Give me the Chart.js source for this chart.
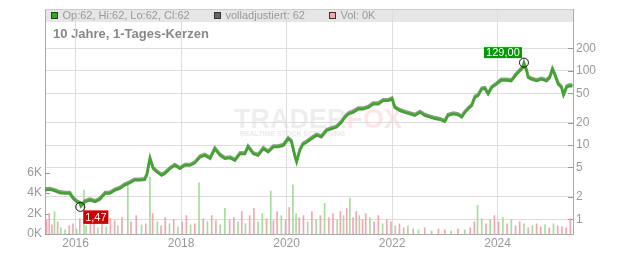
<!DOCTYPE html>
<html><head><meta charset="utf-8">
<script src="https://cdn.jsdelivr.net/npm/chart.js@4/dist/chart.umd.min.js"></script>
<style>html,body{margin:0;padding:0;background:#fff}#wrap{width:632px;height:253px}</style>
</head><body><div id="wrap"><canvas id="c" width="632" height="253"></canvas></div>
<script>
// ---- data (decimal years) ----
const dates = [2015.42,2015.51,2015.61,2015.70,2015.80,2015.89,2015.95,2016.02,2016.08,2016.10,2016.18,2016.27,2016.37,2016.46,2016.56,2016.65,2016.75,2016.84,2016.93,2017.03,2017.12,2017.22,2017.31,2017.35,2017.41,2017.47,2017.54,2017.63,2017.69,2017.79,2017.88,2017.98,2018.07,2018.17,2018.26,2018.36,2018.45,2018.55,2018.64,2018.74,2018.83,2018.93,2019.02,2019.12,2019.21,2019.27,2019.37,2019.46,2019.56,2019.65,2019.75,2019.84,2019.94,2020.03,2020.09,2020.16,2020.19,2020.25,2020.31,2020.38,2020.47,2020.57,2020.66,2020.76,2020.85,2020.95,2021.04,2021.11,2021.17,2021.26,2021.36,2021.45,2021.55,2021.64,2021.74,2021.83,2021.93,2022.00,2022.05,2022.15,2022.24,2022.34,2022.43,2022.53,2022.62,2022.72,2022.81,2022.91,2023.00,2023.06,2023.16,2023.25,2023.32,2023.38,2023.44,2023.51,2023.57,2023.63,2023.70,2023.76,2023.82,2023.89,2023.98,2024.07,2024.17,2024.26,2024.36,2024.42,2024.48,2024.50,2024.55,2024.58,2024.64,2024.74,2024.83,2024.93,2024.99,2025.04,2025.08,2025.15,2025.21,2025.25,2025.31,2025.37,2025.42];
const closes = [2.47,2.52,2.41,2.27,2.23,2.23,1.91,1.72,1.64,1.5,1.72,1.81,1.72,1.85,2.23,2.23,2.47,2.6,2.88,3.09,3.36,3.36,3.4,3.9,6.55,4.8,4.34,3.9,4.13,4.8,5.3,4.8,5.3,5.3,5.73,6.9,7.25,6.55,8.9,7.25,6.55,6.7,6.2,7.63,7.6,9.4,7.6,7.25,8.9,8.05,9.4,9.4,9.85,12.1,11.2,6.9,5.9,8.4,10.2,10.9,12.1,13.5,12.8,15.7,16.5,17.4,20.2,23.7,26.2,27.5,30.5,30.5,32,35.6,35.6,39.5,39.5,41.6,32,29,27.5,26.2,25,27.5,25,23.7,22.7,22,20.7,25,26.2,25.5,23.7,27.5,30.5,33.8,43.8,46,56.6,57.6,48.5,59.6,66,74.4,74.4,72.8,90,99.6,110,125,99.6,81,76.9,73,76.9,73,81,104.5,90,66,59.6,47,60,62.8,62];

const volDates = [2015.45,2015.50,2015.55,2015.60,2015.66,2015.72,2015.80,2015.88,2015.95,2016.02,2016.08,2016.16,2016.20,2016.28,2016.35,2016.42,2016.50,2016.58,2016.66,2016.74,2016.80,2016.88,2016.99,2017.05,2017.15,2017.25,2017.33,2017.41,2017.46,2017.55,2017.62,2017.70,2017.78,2017.86,2017.94,2018.02,2018.10,2018.18,2018.26,2018.34,2018.42,2018.50,2018.58,2018.66,2018.74,2018.83,2018.92,2019.00,2019.08,2019.15,2019.22,2019.30,2019.38,2019.46,2019.54,2019.62,2019.70,2019.75,2019.82,2019.90,2019.98,2020.05,2020.12,2020.18,2020.24,2020.32,2020.40,2020.48,2020.56,2020.64,2020.72,2020.80,2020.88,2020.96,2021.02,2021.08,2021.14,2021.20,2021.26,2021.32,2021.38,2021.44,2021.50,2021.58,2021.66,2021.74,2021.82,2021.90,2021.98,2022.06,2022.14,2022.22,2022.30,2022.40,2022.50,2022.62,2022.75,2022.88,2023.00,2023.12,2023.25,2023.38,2023.48,2023.56,2023.62,2023.70,2023.78,2023.86,2023.94,2024.02,2024.10,2024.18,2024.26,2024.34,2024.42,2024.50,2024.58,2024.66,2024.74,2024.82,2024.90,2024.98,2025.06,2025.14,2025.22,2025.30,2025.38];
const volValues = [1400,2000,900,2200,1200,600,400,800,1000,500,1500,4300,800,1200,1400,600,1000,700,1500,1300,800,1600,4800,1200,1800,900,1000,5600,2000,1200,800,1600,1000,1400,700,1200,1800,900,1000,5000,1500,1200,1800,1300,900,2500,1400,1600,1200,2200,1000,1800,2500,1200,2000,1500,4200,1300,2200,1800,1400,2600,4800,2000,1600,1800,1200,2200,1400,1800,3000,1600,2000,1400,2200,1800,2500,3500,1600,2200,1800,1400,2000,1600,1200,1800,1000,1400,1200,800,1000,600,800,500,400,600,300,500,400,300,500,400,600,1200,2800,1500,1000,1400,1800,1200,1600,1000,1400,800,1200,1000,600,800,1000,700,900,600,1000,800,700,600,1500];
const volUp = [0,0,0,1,0,1,1,0,0,1,0,1,1,0,0,1,0,1,0,0,1,0,1,0,0,1,0,1,0,1,0,0,1,0,1,0,0,1,0,1,0,1,0,0,1,1,0,0,1,0,1,0,0,1,1,0,1,0,0,1,0,0,1,1,0,0,1,0,1,0,1,0,0,1,0,1,0,1,0,0,1,0,0,1,0,0,1,0,0,1,0,0,1,0,1,0,1,0,0,1,0,1,0,0,1,1,0,1,0,0,1,0,1,0,0,1,0,1,0,0,1,0,1,0,0];

const yearTicks = [2016,2018,2020,2022,2024];
const priceTicks = [1,2,5,10,20,50,100,200];
const volTicks = [0,2000,4000,6000];
const highMark = {t:2024.50, v:129, label:'129,00'};
const lowMark = {t:2016.09, v:1.47, label:'1,47'};
const legendItems = [
  {text:'Op:62, Hi:62, Lo:62, Cl:62', color:'#33aa22'},
  {text:'volladjustiert: 62', color:'#666666'},
  {text:'Vol: 0K', color:'#f4a6b0'}
];
const titleText = '10 Jahre, 1-Tages-Kerzen';

// ---- chart ----
const FONT = '"Liberation Sans", Arial, sans-serif';
const GREEN = '#3ea62b';

const bgPlugin = {
  id:'bg',
  beforeDraw(chart){
    const {ctx, chartArea:a} = chart;
    ctx.save();
    ctx.fillStyle = '#e6e6e6';
    ctx.fillRect(a.left, a.top, a.right - a.left, 13);
    ctx.textBaseline = 'alphabetic';
    ctx.font = 'bold 27px ' + FONT;
    ctx.fillStyle = 'rgba(200,200,200,0.3)';
    ctx.fillText('TRADER', 234, 128);
    const w = ctx.measureText('TRADER').width;
    ctx.fillStyle = 'rgba(235,120,130,0.18)';
    ctx.fillText('FOX', 234 + w, 128);
    ctx.font = 'bold 7px ' + FONT;
    ctx.fillStyle = 'rgba(200,200,200,0.4)';
    ctx.fillText('REALTIME STOCK SCREENING', 240, 136);
    ctx.font = 'bold 13px ' + FONT;
    ctx.fillStyle = '#888';
    ctx.fillText(titleText, 53, 37.5);
    ctx.restore();
  },
  beforeDatasetsDraw(chart){
    const {ctx, chartArea:a} = chart;
    ctx.save();
    ctx.font = '11px ' + FONT;
    ctx.textBaseline = 'middle';
    const xs = [51, 214, 329];
    legendItems.forEach((it,i)=>{
      ctx.fillStyle = it.color;
      ctx.fillRect(xs[i]+0.5, 12.5, 6, 6);
      ctx.strokeStyle = '#333';
      ctx.lineWidth = 1;
      ctx.strokeRect(xs[i]+0.5, 12.5, 6, 6);
      ctx.fillStyle = '#999';
      ctx.fillText(it.text, xs[i]+11.5, 16);
    });
    ctx.strokeStyle = '#ccc';
    ctx.beginPath(); ctx.moveTo(a.left, a.top+0.5); ctx.lineTo(a.right, a.top+0.5); ctx.stroke();
    ctx.strokeStyle = '#999';
    const yR = chart.scales.y, yL = chart.scales.yVol;
    priceTicks.forEach(v=>{ const p = Math.round(yR.getPixelForValue(v))+0.5; ctx.beginPath(); ctx.moveTo(a.right-5,p); ctx.lineTo(a.right,p); ctx.stroke(); });
    volTicks.forEach(v=>{ const p = Math.round(yL.getPixelForValue(v))+0.5; ctx.beginPath(); ctx.moveTo(a.left,p); ctx.lineTo(a.left+5,p); ctx.stroke(); });
    ctx.restore();
  },
  beforeDatasetDraw(chart, args){
    if (args.index === 0){
      chart.ctx.save();
      chart.ctx.shadowColor = 'rgba(130,130,130,0.85)';
      chart.ctx.shadowOffsetY = -1.5;
      chart.ctx.shadowOffsetX = 0;
      chart.ctx.shadowBlur = 0;
    }
  },
  afterDatasetDraw(chart, args){
    if (args.index === 0) chart.ctx.restore();
  },
  afterDatasetsDraw(chart){
    const {ctx} = chart;
    const sx = chart.scales.x, sy = chart.scales.y;
    ctx.save();
    ctx.font = '11px ' + FONT;
    ctx.textBaseline = 'middle';
    ctx.textAlign = 'center';
    let cx = sx.getPixelForValue(highMark.t), cy = sy.getPixelForValue(highMark.v);
    ctx.strokeStyle = '#111'; ctx.lineWidth = 1;
    ctx.beginPath(); ctx.arc(cx, cy, 4.5, 0, Math.PI*2); ctx.stroke();
    let bw = 38, bh = 11;
    ctx.fillStyle = '#009900';
    ctx.fillRect(cx - 2 - bw, cy - 4.5 - bh, bw, bh);
    ctx.fillStyle = '#fff';
    ctx.fillText(highMark.label, cx - 2 - bw/2, cy - 4.5 - bh/2 + 0.5);
    cx = sx.getPixelForValue(lowMark.t); cy = sy.getPixelForValue(lowMark.v);
    ctx.beginPath(); ctx.arc(cx, cy, 4.5, 0, Math.PI*2); ctx.stroke();
    bw = 25; bh = 13.5;
    ctx.fillStyle = '#cc0000';
    ctx.fillRect(cx + 3, cy + 3.5, bw, bh);
    ctx.fillStyle = '#fff';
    ctx.fillText(lowMark.label, cx + 3 + bw/2, cy + 3.5 + bh/2 + 0.5);
    ctx.restore();
  }
};

const tickFont = {family: FONT, size: 12, lineHeight: 1};
new Chart(document.getElementById('c'), {
  type: 'line',
  data: {
    datasets: [
      {
        type: 'line',
        data: dates.map((t,i)=>({x:t, y:closes[i]})),
        yAxisID: 'y',
        borderColor: GREEN,
        borderWidth: 2.6,
        pointRadius: 0,
        tension: 0,
        order: 1
      },
      {
        type: 'bar',
        data: volDates.map((t,i)=>({x:t, y:volValues[i]})),
        yAxisID: 'yVol',
        backgroundColor: volUp.map(u => u ? '#a6dc9e' : '#f2a6b0'),
        barThickness: 1,
        order: 2
      }
    ]
  },
  options: {
    responsive: false,
    animation: false,
    devicePixelRatio: 1,
    layout: {padding: {top: 9, left: 0, right: 0, bottom: 0}},
    plugins: {legend: {display: false}, tooltip: {enabled: false}},
    scales: {
      x: {
        type: 'linear', min: 2015.42, max: 2025.43, offset: false, bounds: 'data',
        afterBuildTicks: s => { s.ticks = yearTicks.map(v=>({value:v})); },
        afterFit: s => { s.height = 19; },
        grid: {color: '#dddddd', drawTicks: false, offset: false},
        border: {color: '#aaaaaa'},
        ticks: {color: '#999', font: tickFont, padding: 4, maxRotation: 0, callback: v => String(v)}
      },
      y: {
        type: 'logarithmic', position: 'right', min: 0.634, max: 681, bounds: 'data',
        afterBuildTicks: s => { s.ticks = priceTicks.map(v=>({value:v})); },
        afterFit: s => { s.width = 59; },
        grid: {color: '#dddddd', drawTicks: false},
        border: {color: '#aaaaaa'},
        ticks: {color: '#999', font: tickFont, padding: 3, callback: v => String(v)}
      },
      yVol: {
        type: 'linear', position: 'left', min: 0, max: 22000, bounds: 'data',
        afterBuildTicks: s => { s.ticks = volTicks.map(v=>({value:v})); },
        afterFit: s => { s.width = 45; },
        grid: {display: false, drawTicks: false},
        border: {color: '#aaaaaa'},
        ticks: {color: '#999', font: tickFont, padding: 3, callback: v => (v/1000) + 'K'}
      }
    }
  },
  plugins: [bgPlugin]
});
</script>
</body></html>
